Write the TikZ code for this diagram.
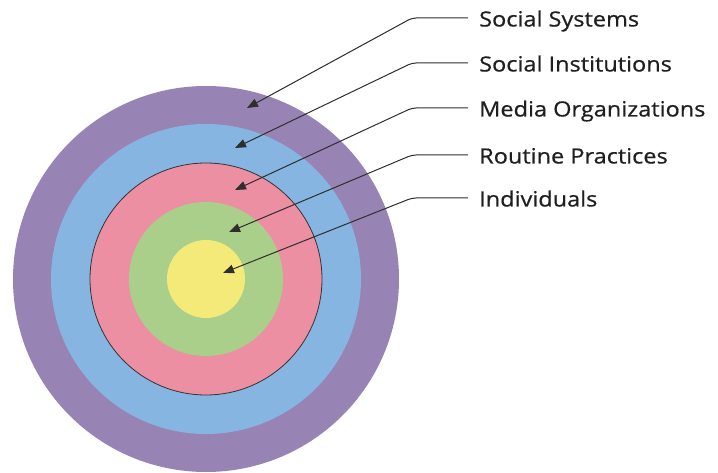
\documentclass[tikz,border=0pt]{standalone}
\usepackage{fontspec}
\setmainfont{Open Sans}[FakeStretch=1.12,FakeBold=0.6]
\usetikzlibrary{arrows.meta}
\definecolor{cpurple}{HTML}{9883B5}
\definecolor{cblue}{HTML}{86B5E2}
\definecolor{cpink}{HTML}{EC8FA3}
\definecolor{cgreen}{HTML}{AACF8A}
\definecolor{cyellow}{HTML}{F4EA7A}
\definecolor{cline}{HTML}{2E2E2E}
\begin{document}
\begin{tikzpicture}[x=1pt,y=-1pt,
  lbl/.style={anchor=west,inner xsep=11pt,inner ysep=0pt,text height=17pt,text depth=0pt,font=\fontsize{21}{24}\selectfont,text=black!88},
  conn/.style={draw=cline,line width=1pt,rounded corners=4pt,-{Triangle[length=11pt,width=8.5pt]}}]
\useasboundingbox (0,0) rectangle (718,473);
\fill[cpurple] (206,279) circle (193);
\fill[cblue] (206,279) circle (155);
\filldraw[fill=cpink,draw=black!80,line width=0.8pt] (206,279) circle (116);
\fill[cgreen] (206,279) circle (77);
\fill[cyellow] (206,279) circle (39);
\node[lbl] (l1) at (468,18) {Social Systems};
\node[lbl] (l2) at (468,63) {Social Institutions};
\node[lbl] (l3) at (468,108) {Media Organizations};
\node[lbl] (l4) at (468,155) {Routine Practices};
\node[lbl] (l5) at (468,198) {Individuals};
\coordinate (t1) at (247,108);
\coordinate (t2) at (235,148);
\coordinate (t3) at (235,190);
\coordinate (t4) at (229,232);
\coordinate (t5) at (223,273);
\draw[conn] (l1.west) -- ++(-56,0) -- (t1);
\draw[conn] (l2.west) -- ++(-56,0) -- (t2);
\draw[conn] (l3.west) -- ++(-56,0) -- (t3);
\draw[conn] (l4.west) -- ++(-56,0) -- (t4);
\draw[conn] (l5.west) -- ++(-56,0) -- (t5);
\end{tikzpicture}
\end{document}
